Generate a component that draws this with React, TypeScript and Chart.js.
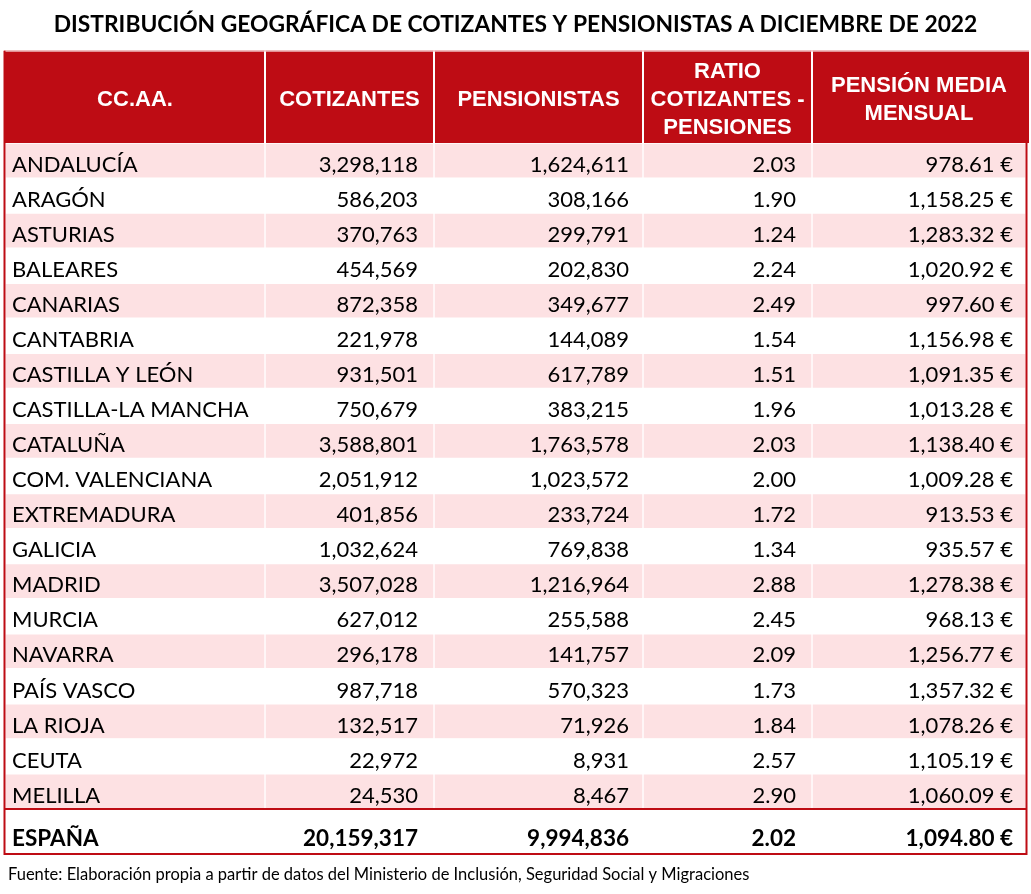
import React, { useEffect, useRef } from "react";
import { Chart, registerables } from "chart.js";

Chart.register(...registerables);

// ---------------- data ----------------
const TITLE = "DISTRIBUCIÓN GEOGRÁFICA DE COTIZANTES Y PENSIONISTAS A DICIEMBRE DE 2022";
const SOURCE =
  "Fuente: Elaboración propia a partir de datos del Ministerio de Inclusión, Seguridad Social y Migraciones";

const HEADERS: string[][] = [
  ["CC.AA."],
  ["COTIZANTES"],
  ["PENSIONISTAS"],
  ["RATIO", "COTIZANTES -", "PENSIONES"],
  ["PENSIÓN MEDIA", "MENSUAL"],
];

const REGIONS = [
  "ANDALUCÍA",
  "ARAGÓN",
  "ASTURIAS",
  "BALEARES",
  "CANARIAS",
  "CANTABRIA",
  "CASTILLA Y LEÓN",
  "CASTILLA-LA MANCHA",
  "CATALUÑA",
  "COM. VALENCIANA",
  "EXTREMADURA",
  "GALICIA",
  "MADRID",
  "MURCIA",
  "NAVARRA",
  "PAÍS VASCO",
  "LA RIOJA",
  "CEUTA",
  "MELILLA",
];

const COTIZANTES = [
  3298118, 586203, 370763, 454569, 872358, 221978, 931501, 750679, 3588801,
  2051912, 401856, 1032624, 3507028, 627012, 296178, 987718, 132517, 22972,
  24530,
];

const PENSIONISTAS = [
  1624611, 308166, 299791, 202830, 349677, 144089, 617789, 383215, 1763578,
  1023572, 233724, 769838, 1216964, 255588, 141757, 570323, 71926, 8931, 8467,
];

const RATIO = [
  2.03, 1.9, 1.24, 2.24, 2.49, 1.54, 1.51, 1.96, 2.03, 2.0, 1.72, 1.34, 2.88,
  2.45, 2.09, 1.73, 1.84, 2.57, 2.9,
];

const PENSION_MEDIA = [
  978.61, 1158.25, 1283.32, 1020.92, 997.6, 1156.98, 1091.35, 1013.28, 1138.4,
  1009.28, 913.53, 935.57, 1278.38, 968.13, 1256.77, 1357.32, 1078.26, 1105.19,
  1060.09,
];

const TOTAL_LABEL = "ESPAÑA";
const TOTAL_COTIZANTES = 20159317;
const TOTAL_PENSIONISTAS = 9994836;
const TOTAL_RATIO = 2.02;
const TOTAL_PENSION_MEDIA = 1094.8;

// ---------------- layout / style ----------------
const W = 1031;
const H = 894;
const COLUMN_EDGES = [0, 260, 429, 638, 807, 1021];
const RIGHT_PAD = [0, 16, 14, 16, 13];
const HEADER_H = 92.3;
const TOTAL_H = 45;
const RED = "#BE0C14";
const PINK = "#FDE1E3";
const BODY_FONT = "Lato, 'Open Sans', sans-serif";
const HEAD_FONT = "'Liberation Sans', Arial, sans-serif";

const fmtInt = (v: number) => v.toLocaleString("en-US");
const fmtEur = (v: number) =>
  v.toLocaleString("en-US", { minimumFractionDigits: 2, maximumFractionDigits: 2 }) + " €";

const tablePlugin = {
  id: "tableText",
  afterDatasetsDraw(chart: any) {
    const { ctx, chartArea: a, scales } = chart;
    const x = scales.x;
    const y = scales.y;
    const colX = COLUMN_EDGES.map((v) => x.getPixelForValue(v));
    ctx.save();

    // header
    const hTop = a.top - HEADER_H;
    ctx.fillStyle = RED;
    ctx.fillRect(colX[0] - 1, hTop, colX[5] - colX[0] + 4, HEADER_H);
    ctx.fillStyle = "#ffffff";
    for (let c = 1; c < 5; c++) ctx.fillRect(colX[c] - 1, hTop, 2, HEADER_H);
    ctx.fillStyle = "#f3c9cb";
    ctx.fillRect(colX[0] - 1, hTop, colX[5] - colX[0] + 4, 1);

    ctx.fillStyle = "#ffffff";
    ctx.font = `bold 22px ${HEAD_FONT}`;
    ctx.textAlign = "center";
    ctx.textBaseline = "alphabetic";
    const hMid = hTop + 47.5;
    HEADERS.forEach((lines, c) => {
      const cx = (colX[c] + colX[c + 1]) / 2;
      const n = lines.length;
      lines.forEach((t, k) => {
        const cy = hMid + (k - (n - 1) / 2) * 27.8;
        ctx.fillText(t, cx, cy + 8);
      });
    });

    // body text
    ctx.fillStyle = "#000000";
    ctx.font = `22px ${BODY_FONT}`;
    REGIONS.forEach((r, i) => {
      const base = y.getPixelForValue(i) + 11.2;
      ctx.textAlign = "left";
      ctx.fillText(r, colX[0] + 7, base);
      ctx.textAlign = "right";
      const vals = [
        fmtInt(COTIZANTES[i]),
        fmtInt(PENSIONISTAS[i]),
        RATIO[i].toFixed(2),
        fmtEur(PENSION_MEDIA[i]),
      ];
      vals.forEach((v, k) => ctx.fillText(v, colX[k + 2] - RIGHT_PAD[k + 1], base));
    });

    // total row
    ctx.font = `bold 22.5px ${BODY_FONT}`;
    const tBase = a.bottom + 37;
    ctx.textAlign = "left";
    ctx.fillText(TOTAL_LABEL, colX[0] + 7, tBase);
    ctx.textAlign = "right";
    [
      fmtInt(TOTAL_COTIZANTES),
      fmtInt(TOTAL_PENSIONISTAS),
      TOTAL_RATIO.toFixed(2),
      fmtEur(TOTAL_PENSION_MEDIA),
    ].forEach((v, k) => ctx.fillText(v, colX[k + 2] - RIGHT_PAD[k + 1], tBase));

    // borders
    ctx.strokeStyle = RED;
    ctx.lineWidth = 2;
    ctx.beginPath();
    ctx.moveTo(colX[0] - 0.5, hTop);
    ctx.lineTo(colX[0] - 0.5, a.bottom + TOTAL_H);
    ctx.moveTo(colX[5] + 0.5, a.top);
    ctx.lineTo(colX[5] + 0.5, a.bottom + TOTAL_H);
    ctx.moveTo(colX[0] - 1.5, a.bottom);
    ctx.lineTo(colX[5] + 1.5, a.bottom);
    ctx.moveTo(colX[0] - 1.5, a.bottom + TOTAL_H);
    ctx.lineTo(colX[5] + 1.5, a.bottom + TOTAL_H);
    ctx.stroke();

    // source footnote
    ctx.fillStyle = "#000000";
    ctx.font = `16.5px ${BODY_FONT}`;
    ctx.textAlign = "left";
    ctx.fillText(SOURCE, colX[0] + 3, a.bottom + 71);

    ctx.restore();
  },
};

export default function App() {
  const ref = useRef<HTMLCanvasElement | null>(null);

  useEffect(() => {
    let chart: Chart | null = null;
    let cancelled = false;
    const make = () => {
      if (cancelled || !ref.current) return;
      const datasets = HEADERS.map((_, c) => ({
        label: `col${c}`,
        data: REGIONS.map(() => [COLUMN_EDGES[c], COLUMN_EDGES[c + 1]] as [number, number]),
        backgroundColor: REGIONS.map((_, i) => (i % 2 === 0 ? PINK : "#ffffff")),
        borderColor: "#ffffff",
        borderWidth: 1,
        borderSkipped: false as any,
        grouped: false,
        barPercentage: 1,
        categoryPercentage: 1,
      }));
      chart = new Chart(ref.current, {
        type: "bar",
        data: { labels: REGIONS, datasets: datasets as any },
        options: {
          indexAxis: "y",
          responsive: false,
          animation: false,
          devicePixelRatio: 1,
          layout: { padding: { left: 5, right: 5, top: 0, bottom: 85 } },
          scales: {
            x: { type: "linear", min: COLUMN_EDGES[0], max: COLUMN_EDGES[5], display: false },
            y: { type: "category", display: false, offset: true },
          },
          plugins: {
            legend: { display: false },
            tooltip: { enabled: false },
            title: {
              display: true,
              text: TITLE,
              color: "#000000",
              font: { family: BODY_FONT, size: 22.8, weight: "bold", lineHeight: 1.2 },
              padding: { top: 11, bottom: 143 - 11 - 27.36 },
            },
          },
        },
        plugins: [tablePlugin],
      });
    };
    const fontsAny = (document as any).fonts;
    if (fontsAny && fontsAny.load) {
      Promise.all([
        fontsAny.load(`22px ${BODY_FONT}`),
        fontsAny.load(`bold 22px ${BODY_FONT}`),
        fontsAny.load(`bold 22px ${HEAD_FONT}`),
      ])
        .catch(() => null)
        .then(make);
    } else {
      make();
    }
    return () => {
      cancelled = true;
      if (chart) chart.destroy();
    };
  }, []);

  return (
    <div style={{ position: "absolute", left: 0, top: 0, width: W, height: H, background: "#fff" }}>
      <canvas ref={ref} width={W} height={H} style={{ display: "block" }} />
    </div>
  );
}
